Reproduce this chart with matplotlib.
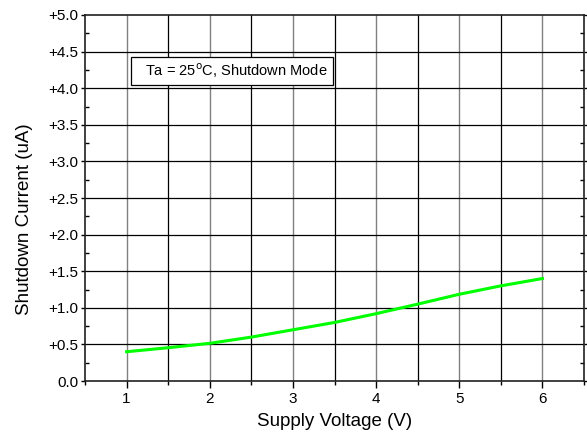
import matplotlib
matplotlib.use("Agg")
import matplotlib.pyplot as plt
from matplotlib.patches import Rectangle
from matplotlib.ticker import MultipleLocator

plt.rcParams["font.family"] = ["Liberation Sans", "DejaVu Sans"]

# values
voltage = [1.0, 1.5, 2.0, 2.5, 3.0, 3.5, 4.0, 4.5, 5.0, 5.5, 6.0]
current = [0.40, 0.455, 0.515, 0.60, 0.70, 0.80, 0.92, 1.05, 1.185, 1.30, 1.40]

x_ticks = [1, 2, 3, 4, 5, 6]
y_ticks = [0.0, 0.5, 1.0, 1.5, 2.0, 2.5, 3.0, 3.5, 4.0, 4.5, 5.0]
y_labels = ["0.0"] + ["+%.1f" % v for v in y_ticks[1:]]

fig = plt.figure(figsize=(5.87, 4.41), dpi=100)
ax = fig.add_axes([0.1448, 0.136, 0.8501, 0.830])

ax.plot(voltage, current, color="#00ff00", lw=2.2, zorder=3)

ax.set_xlim(0.5, 6.5)
ax.set_ylim(0.0, 5.0)

# grid: gray at integer volts, black at half volts, black horizontal
for v in x_ticks:
    ax.axvline(v, color="#808080", lw=1.0, zorder=1)
for v in [1.5, 2.5, 3.5, 4.5, 5.5]:
    ax.axvline(v, color="black", lw=0.9, zorder=1)
for v in y_ticks[1:-1]:
    ax.axhline(v, color="black", lw=0.9, zorder=1)

ax.set_xticks(x_ticks)
ax.xaxis.set_minor_locator(MultipleLocator(0.5))
ax.set_yticks(y_ticks)
ax.set_yticklabels(y_labels)
ax.yaxis.set_minor_locator(MultipleLocator(0.25))

ax.tick_params(axis="x", which="major", direction="out", length=5, width=1,
               labelsize=11, pad=3)
ax.tick_params(axis="x", which="minor", direction="out", length=3, width=1)
ax.tick_params(axis="y", which="major", direction="out", length=3, width=1,
               labelsize=11, pad=2, right=True)
ax.tick_params(axis="y", which="minor", direction="in", length=3, width=1,
               right=True)

for s in ax.spines.values():
    s.set_linewidth(1.2)
    s.set_color("#202020")

ax.set_xlabel("Supply Voltage (V)", fontsize=13.5, va="top")
ax.xaxis.set_label_coords(0.5, -0.086)
ax.set_ylabel("Shutdown Current (uA)", fontsize=13.5)
ax.yaxis.set_label_coords(-0.104, 0.443)

# annotation box
ax.add_patch(Rectangle((0.092, 0.809), 0.405, 0.076, transform=ax.transAxes,
                       fc="white", ec="black", lw=0.9, zorder=4))
ax.text(0.120, 0.847, r"Ta = 25$^{\mathrm{o}}$C, Shutdown Mode",
        transform=ax.transAxes, fontsize=10.5, va="center", ha="left", zorder=5)

fig.savefig("out.png", dpi=100)
